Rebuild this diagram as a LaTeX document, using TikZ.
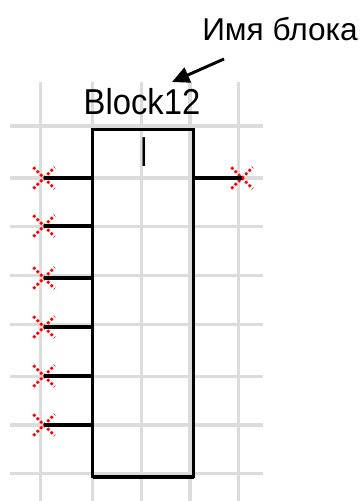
\documentclass[tikz,border=0pt]{standalone}
\usepackage{fontspec}
\setmainfont{Liberation Sans}
\usetikzlibrary{arrows.meta, shapes.misc}
\definecolor{gridgray}{RGB}{220,220,220}
\definecolor{pinred}{RGB}{255,0,0}

\begin{document}
\begin{tikzpicture}[
                x=0.75pt, y=-0.75pt,
                gridline/.style={draw=gridgray, line width=2.5pt},
                blockbox/.style={rectangle, draw=black, line width=2.2pt, outer sep=0pt, inner sep=0pt,
                            minimum width=75.75pt, minimum height=260.25pt},
                pinmark/.style={cross out, draw=pinred, line width=1.9pt, dash pattern=on 2pt off 1.7pt,
                            minimum size=16pt, inner sep=0pt, outer sep=0pt},
                wire/.style={draw=black, line width=2.4pt},
                arr/.style={-{Stealth[length=13pt, width=12pt, inset=0pt]}, line width=2.2pt, black}
            ]
                \useasboundingbox (0,0) rectangle (360,501);

                % grid
                \foreach \gx in {40.5,92.5,141.5,190,238.5}
                    \draw[gridline] (\gx,82) -- (\gx,501);
                \foreach \gy in {126,178,226.5,275.5,324.5,376.5,425,473.5}
                    \draw[gridline] (10,\gy) -- (263,\gy);

                \node[blockbox] (block) at (143,303) {};
                \node[font=\fontsize{31.5}{32}\selectfont, xscale=0.65, inner sep=0pt] (mark) at (144,152) {I};
                \node[font=\fontsize{27}{28}\selectfont, xscale=0.91, inner sep=0pt] (blockname) at (142,102) {Block12};
                \node[font=\fontsize{23.7}{25}\selectfont, inner sep=0pt] (hint) at (280,29) {Имя блока};

                % pins
                \foreach \i/\py in {1/178,2/226,3/278,4/327,5/376,6/425} {
                    \node[pinmark] (in\i) at (44,\py) {};
                    \draw[wire] (in\i.center) -- (in\i.center -| block.west);
                }
                \node[pinmark] (out) at (242,178) {};
                \draw[wire] (out.center) -- (out.center -| block.east);
                \draw[line width=3pt] (block.south west) -- (block.south east);

                \coordinate (tail) at (224,59);
                \coordinate (tip) at (172,82);
                \draw[arr] (tail) -- (tip);
            \end{tikzpicture}
\end{document}
